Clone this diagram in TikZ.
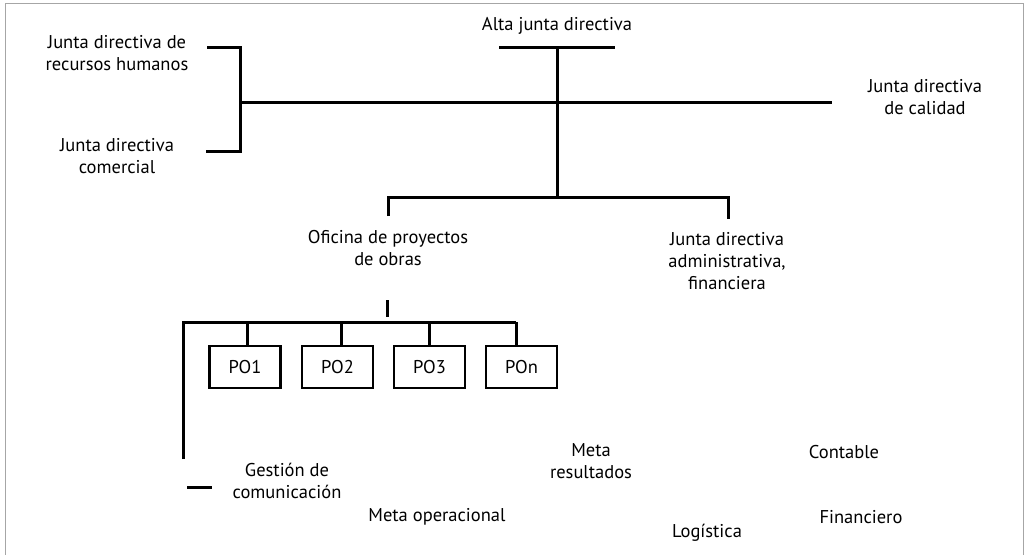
\documentclass[tikz,border=0pt]{standalone}
\usepackage{fontspec}
\setmainfont{PT Sans}
\begin{document}
\begin{tikzpicture}[x=1pt,y=-1pt,
  lbl/.style={align=center,inner sep=0pt,font=\fontsize{18.5}{22}\selectfont},
  link/.style={line width=3pt},
  pobox/.style={draw,line width=2.4pt,minimum width=71pt,minimum height=42pt,inner sep=0pt,font=\fontsize{18.5}{22}\selectfont}]
  \useasboundingbox (0,0) rectangle (1025,554);
  \draw[gray!70,line width=1pt] (5.5,560) -- (5.5,3.5) -- (1023,3.5) -- (1023,560);

  % texts
  \node[lbl] (alta) at (557,26) {Alta junta directiva};
  \node[lbl] (rrhh) at (117,53) {Junta directiva de\\recursos humanos};
  \node[lbl] (comercial) at (117,156) {Junta directiva\\comercial};
  \node[lbl] (calidad) at (925,97) {Junta directiva\\de calidad};
  \node[lbl] (admin) at (727,261) {Junta directiva\\administrativa,\\financiera};
  \node[lbl] (oficina) at (388,248) {Oficina de proyectos\\de obras};
  \node[lbl] (gestion) at (287,481) {Gestión de\\comunicación};
  \node[lbl] (metaop) at (437,517) {Meta operacional};
  \node[lbl] (metares) at (591,461) {Meta\\resultados};
  \node[lbl] (logistica) at (707,533) {Logística};
  \node[lbl] (contable) at (844,452) {Contable};
  \node[lbl] (financiero) at (861,517) {Financiero};

  % top part
  \coordinate (altaL) at (499,47);
  \coordinate (altaR) at (615,47);
  \coordinate (altaM) at (557,47);
  \coordinate (busL) at (240,102);
  \coordinate (busR) at (832,102);
  \coordinate (brTop) at (207,47);
  \coordinate (brBot) at (206,151);
  \coordinate (midbus) at (557,197);
  \coordinate (ofiTop) at (388,216);
  \coordinate (admTop) at (728,219);

  \draw[link] (altaL) -- (altaR);
  \draw[link] (altaM) -- (midbus);
  \draw[link] (busL) -- (busR);
  \draw[link] (brTop) -- (brTop -| busL) -- (brBot -| busL) -- (brBot);
  \draw[link] (ofiTop) -- (ofiTop |- midbus) -- (admTop |- midbus) -- (admTop);

  % proyectos de obras
  \coordinate (ofiStubA) at (387,300);
  \coordinate (ofiStubB) at (387,317);
  \coordinate (poL) at (183,322);
  \coordinate (poR) at (516,322);
  \coordinate (poEnd) at (183,459);
  \draw[link] (ofiStubA) -- (ofiStubB);
  \draw[link] (poEnd) -- (poL) -- (poR);
  \foreach \name/\x/\dx in {PO1/245/2,PO2/337.5/3.5,PO3/429.5/0,POn/521.5/-5.5}
    {
    \node[pobox] (\name) at (\x,367) {\name};
    \draw[link] ([xshift=\dx pt]\name.north) -- ([xshift=\dx pt]\name.north |- poL);
    }

  \coordinate (dashA) at (187,487);
  \coordinate (dashB) at (212,487);
  \draw[link] (dashA) -- (dashB);
\end{tikzpicture}
\end{document}
